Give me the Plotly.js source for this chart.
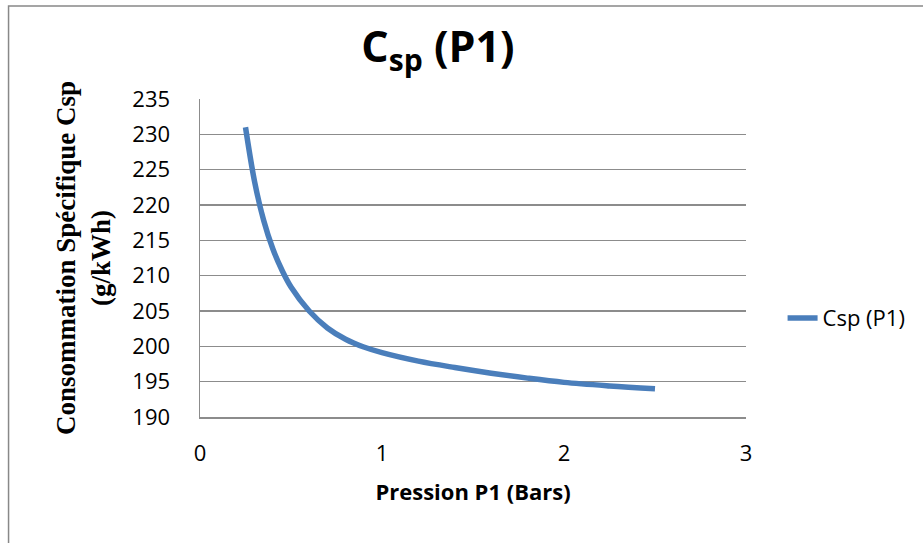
<!DOCTYPE html>
<html>
<head>
<meta charset="utf-8">
<script src="https://cdn.plot.ly/plotly-3.0.1.min.js"></script>
<style>html,body{margin:0;padding:0;background:#fff;}#chart{width:923px;height:543px;}</style>
</head>
<body>
<div id="chart"></div>
<script>
// Data
const pressure = [0.25, 0.3, 0.35, 0.4, 0.45, 0.5, 0.6, 0.7, 0.8, 0.9, 1.0, 1.2, 1.4, 1.6, 1.8, 2.0, 2.25, 2.5];
const csp = [231, 223.3, 217.8, 213.8, 210.8, 208.4, 205.0, 202.6, 201.0, 199.9, 199.1, 197.9, 197.0, 196.2, 195.5, 194.9, 194.4, 194.0];
const seriesName = "Csp (P1)";
const xTicks = [0, 1, 2, 3];
const yTicks = [190, 195, 200, 205, 210, 215, 220, 225, 230, 235];

const trace = {
  x: pressure, y: csp, name: seriesName, type: "scatter", mode: "lines",
  line: {color: "#4A7EBB", width: 5.5, shape: "spline", smoothing: 1}
};

const gridCol = "#8c8c8c";
const layout = {
  width: 923, height: 543,
  margin: {l: 200, r: 174, t: 99, b: 126},
  paper_bgcolor: "#ffffff", plot_bgcolor: "#ffffff",
  font: {family: "Open Sans, sans-serif", color: "#000"},
  title: {
    text: "<b>C<sub>sp</sub> (P1)</b>",
    font: {family: "Open Sans, sans-serif", size: 43, color: "#000"},
    xref: "container", yref: "container", x: 438/923, y: 1 - 47/543,
    xanchor: "center", yanchor: "middle"
  },
  xaxis: {
    range: [0, 3], tickvals: xTicks, ticktext: xTicks.map(String),
    showgrid: false, zeroline: false,
    showline: true, linecolor: gridCol, linewidth: 1.5,
    ticks: "outside", ticklen: 16, tickcolor: "rgba(0,0,0,0)",
    tickfont: {family: "Open Sans, sans-serif", size: 22, color: "#000"},
    title: {text: "<b>Pression P1 (Bars)</b>", font: {family: "Open Sans, sans-serif", size: 22, color: "#000"}, standoff: 18},
    automargin: false, fixedrange: true
  },
  yaxis: {
    range: [190, 235], tickvals: yTicks, ticktext: yTicks.map(String),
    showgrid: true, gridcolor: gridCol, gridwidth: 1.5, zeroline: false,
    showline: true, linecolor: gridCol, linewidth: 1.5,
    ticks: "outside", ticklen: 24, tickcolor: "rgba(0,0,0,0)",
    tickfont: {family: "Open Sans, sans-serif", size: 22, color: "#000"},
    title: {text: "<b>Consommation Spécifique Csp<br>(g/kWh)</b>", font: {family: "Liberation Serif, Times New Roman, serif", size: 27, color: "#000"}, standoff: 14},
    automargin: false, fixedrange: true
  },
  showlegend: true,
  legend: {
    x: 1.067, xanchor: "left", y: 0.311, yanchor: "middle",
    font: {family: "Open Sans, sans-serif", size: 22, color: "#000"},
    bgcolor: "rgba(0,0,0,0)", itemwidth: 30
  },
  shapes: [{
    type: "rect", xref: "paper", yref: "paper",
    x0: (7.5 - 200)/549, x1: (930 - 200)/549,
    y0: (417 - 550)/318, y1: (417 - 6)/318,
    line: {color: "#888888", width: 1.5}, fillcolor: "rgba(0,0,0,0)", layer: "below"
  }]
};

Plotly.newPlot("chart", [trace], layout, {staticPlot: true, displayModeBar: false});
</script>
</body>
</html>
